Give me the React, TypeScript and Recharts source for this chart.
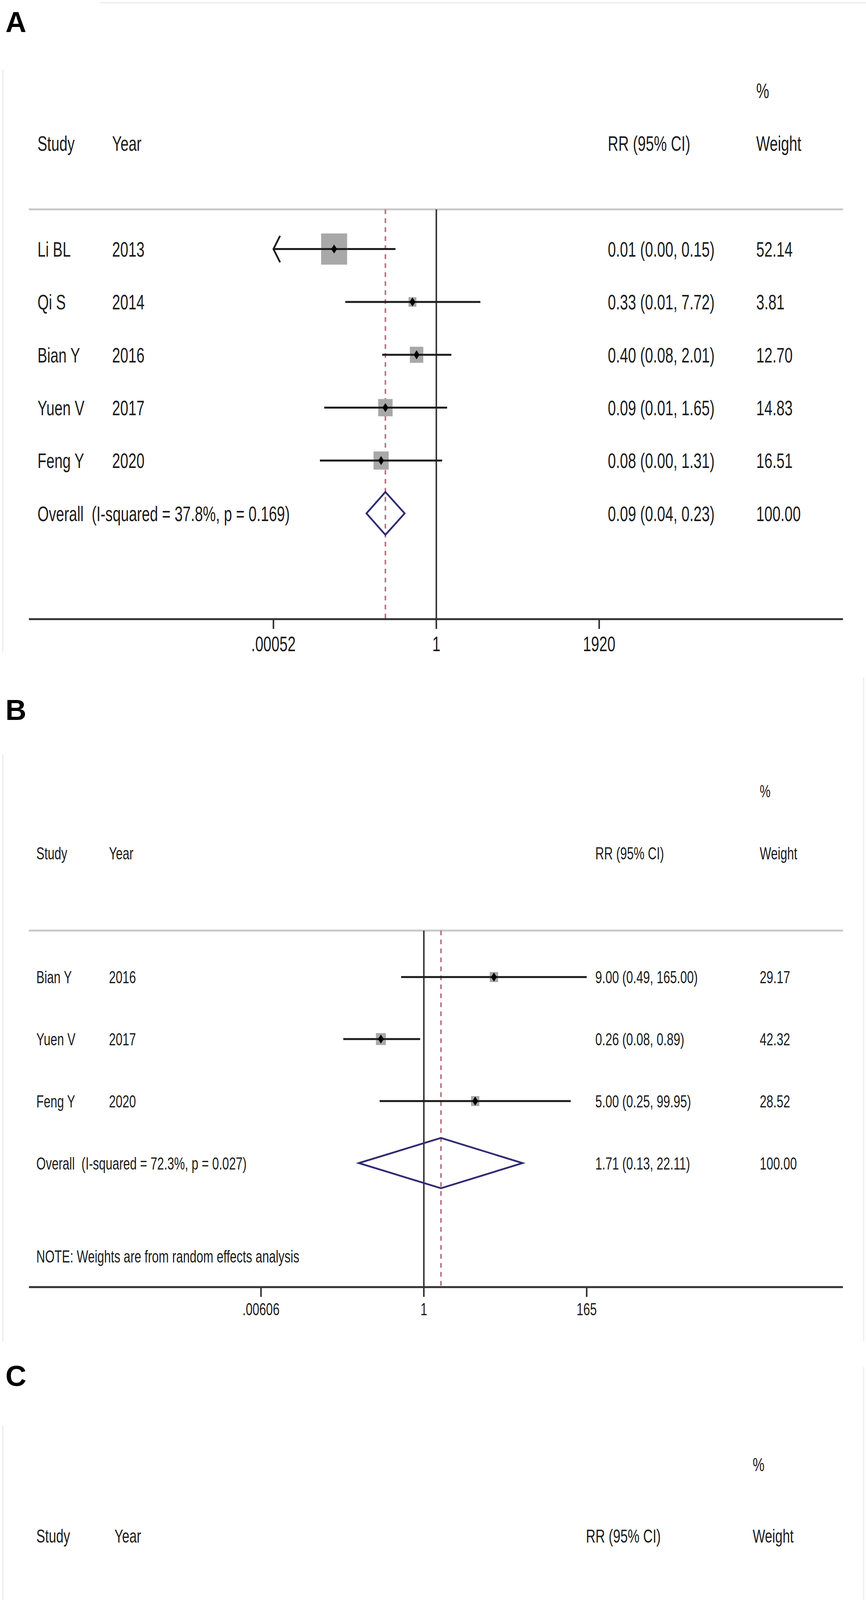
import React from 'react'
import {
    ComposedChart,
    XAxis,
    YAxis,
    Scatter,
    Line,
    ErrorBar,
    ReferenceLine,
} from 'recharts'

// panel A
const aStudy = ['Li BL', 'Qi S', 'Bian Y', 'Yuen V', 'Feng Y']
const aYear = ['2013', '2014', '2016', '2017', '2020']
const aRR = [0.0087, 0.33, 0.4, 0.094, 0.077]
const aLow = [0.0003, 0.0146, 0.081, 0.0055, 0.0045]
const aHigh = [0.15, 7.72, 2.01, 1.65, 1.31]
const aCI = [
    '0.01 (0.00, 0.15)',
    '0.33 (0.01, 7.72)',
    '0.40 (0.08, 2.01)',
    '0.09 (0.01, 1.65)',
    '0.08 (0.00, 1.31)',
]
const aWeight = [52.14, 3.81, 12.7, 14.83, 16.51]
const aOverall = [0.094, 0.039, 0.23]
const aOverallCI = '0.09 (0.04, 0.23)'
const aOverallLabel = 'Overall  (I-squared = 37.8%, p = 0.169)'
const aTicks = ['.00052', '1', '1920']

// panel B
const bStudy = ['Bian Y', 'Yuen V', 'Feng Y']
const bYear = ['2016', '2017', '2020']
const bRR = [9.0, 0.26, 5.0]
const bLow = [0.49, 0.08, 0.25]
const bHigh = [165.0, 0.89, 99.95]
const bCI = ['9.00 (0.49, 165.00)', '0.26 (0.08, 0.89)', '5.00 (0.25, 99.95)']
const bWeight = [29.17, 42.32, 28.52]
const bOverall = [1.71, 0.13, 22.11]
const bOverallCI = '1.71 (0.13, 22.11)'
const bOverallLabel = 'Overall  (I-squared = 72.3%, p = 0.027)'
const bNote = 'NOTE: Weights are from random effects analysis'
const bTicks = ['.00606', '1', '165']

// panel C
const cStudy = ['Li BL', 'Yuen V']
const cYear = ['2013', '2017']
const cRR = [0.65, 1.23]
const cLow = [0.026, 0.51]
const cHigh = [15.93, 2.96]
const cCI = ['0.65 (0.03, 15.93)', '1.23 (0.51, 2.96)']
const cWeight = [9.23, 90.77]
const cOverall = [1.18, 0.51, 2.74]
const cOverallCI = '1.18 (0.51, 2.74)'
const cOverallLabel = 'Overall  (I-squared = 0.0%, p = 0.708)'
const cTicks = ['.0268', '1', '37.3']

const W = 2217
const ML = 74
const MR = 59
const FONT = '"Liberation Sans", Arial, sans-serif'
const SX = 0.69

const layA = {
    top: 0,
    height: 1700,
    marginTop: 130,
    axisH: 115,
    domain: [-8.214, 8.198],
    fs: 54,
    cols: { study: 96, year: 287, ci: 1556, weight: 1936 },
    boxK: 8.8,
    boxC: 3,
    tickOff: 63,
}
const layB = {
    top: 1700,
    height: 1760,
    marginTop: 206,
    axisH: 165,
    domain: [-5.378, 5.707],
    fs: 45,
    cols: { study: 93, year: 279, ci: 1524, weight: 1945 },
    boxK: 3.6,
    boxC: 2,
    tickOff: 56,
}
const layC = {
    top: 3460,
    height: 1699,
    marginTop: 152,
    axisH: 133,
    domain: [-3.706, 4.125],
    fs: 49,
    cols: { study: 93, year: 293, ci: 1500, weight: 1927 },
    boxK: 4.5,
    boxC: 8,
    tickOff: 59,
}

function Label({ x, y, fs, text, anchor }: any) {
    return (
        <text
            transform={`translate(${x},${y}) scale(${SX},1)`}
            fontSize={fs}
            fontFamily={FONT}
            fill="#1c1c1c"
            textAnchor={anchor || 'start'}
            xmlSpace="preserve"
            style={{ whiteSpace: 'pre' }}
        >
            {text}
        </text>
    )
}

function Panel(props: any) {
    const { study, year, rr, low, high, ci, weight, overall, overallCI, overallLabel, note, ticks, lay } = props
    const n = study.length
    const yMax = n + 2
    const tickVals = ticks.map((t: string) => Math.log10(Number(t)))
    const tMin = tickVals[0]
    const tMax = tickVals[tickVals.length - 1]
    const pxPerUnit = (W - ML - MR) / (lay.domain[1] - lay.domain[0])
    const dx = 17 / pxPerUnit
    const fs = lay.fs
    const cols = lay.cols

    const rows = study.map((s: string, i: number) => {
        const x = Math.log10(rr[i])
        const lo = Math.max(Math.log10(low[i]), tMin)
        const hi = Math.min(Math.log10(high[i]), tMax)
        return { x, y: i, err: [x - lo, hi - x], w: weight[i] }
    })

    const arrows: any[] = []
    study.forEach((s: string, i: number) => {
        if (Math.log10(low[i]) < tMin - 1e-6) {
            arrows.push([
                { x: tMin + dx, y: i - 0.25 },
                { x: tMin, y: i },
                { x: tMin + dx, y: i + 0.25 },
            ])
        }
        if (Math.log10(high[i]) > tMax + 1e-6) {
            arrows.push([
                { x: tMax - dx, y: i - 0.25 },
                { x: tMax, y: i },
                { x: tMax - dx, y: i + 0.25 },
            ])
        }
    })

    const oEst = Math.log10(overall[0])
    const oLo = Math.log10(overall[1])
    const oHi = Math.log10(overall[2])
    const diamond = [
        { x: oLo, y: n },
        { x: oEst, y: n - 0.405 },
        { x: oHi, y: n },
        { x: oEst, y: n + 0.405 },
        { x: oLo, y: n },
        { x: oEst, y: n - 0.405 },
    ]

    const texts: any[] = [
        { x: 0, y: -3, cells: [[cols.weight, '%']] },
        {
            x: 0,
            y: -2,
            cells: [
                [cols.study, 'Study'],
                [cols.year, 'Year'],
                [cols.ci, 'RR (95% CI)'],
                [cols.weight, 'Weight'],
            ],
        },
        ...study.map((s: string, i: number) => ({
            x: 0,
            y: i,
            cells: [
                [cols.study, s],
                [cols.year, year[i]],
                [cols.ci, ci[i]],
                [cols.weight, weight[i].toFixed(2)],
            ],
        })),
        {
            x: 0,
            y: n,
            cells: [
                [cols.study, overallLabel],
                [cols.ci, overallCI],
                [cols.weight, '100.00'],
            ],
        },
    ]
    if (note) texts.push({ x: 0, y: n + 1.5, cells: [[cols.study, note]] })

    const renderTick = (p: any) => {
        const idx = tickVals.findIndex((v: number) => Math.abs(v - p.payload.value) < 1e-6)
        return (
            <Label
                x={p.x}
                y={p.y - 25 + lay.tickOff + 0.36 * fs}
                fs={fs}
                anchor="middle"
                text={ticks[idx >= 0 ? idx : p.index]}
            />
        )
    }

    const renderStudy = (p: any) => {
        const w = lay.boxK * Math.sqrt(p.payload.w) + lay.boxC
        const h = w * 1.2
        const { cx, cy } = p
        return (
            <g>
                <rect x={cx - w / 2} y={cy - h / 2} width={w} height={h} fill="#a8a8a8" />
                <line x1={cx - w / 2} x2={cx + w / 2} y1={cy} y2={cy} stroke="#1c1c1c" strokeWidth={5} />
                <path
                    d={`M${cx},${cy - 11.5}L${cx + 7.5},${cy}L${cx},${cy + 11.5}L${cx - 7.5},${cy}Z`}
                    fill="#000"
                />
            </g>
        )
    }

    const renderText = (p: any) => (
        <g>
            {p.payload.cells.map((c: any, k: number) => (
                <Label key={k} x={c[0]} y={p.cy + 0.36 * fs} fs={fs} text={c[1]} />
            ))}
        </g>
    )

    return (
        <div style={{ position: 'absolute', left: 0, top: lay.top }}>
            <ComposedChart
                width={W}
                height={lay.height}
                margin={{ top: lay.marginTop, right: MR, bottom: 0, left: ML }}
            >
                <XAxis
                    type="number"
                    dataKey="x"
                    domain={lay.domain}
                    ticks={tickVals}
                    interval={0}
                    tickSize={25}
                    tickMargin={0}
                    height={lay.axisH}
                    axisLine={{ stroke: '#333', strokeWidth: 5 }}
                    tickLine={{ stroke: '#333', strokeWidth: 4 }}
                    tick={renderTick}
                />
                <YAxis type="number" dataKey="y" domain={[-3.75, yMax]} reversed hide />
                <ReferenceLine
                    segment={[
                        { x: lay.domain[0], y: -0.75 },
                        { x: lay.domain[1], y: -0.75 },
                    ]}
                    stroke="#c9c9c9"
                    strokeWidth={5}
                    ifOverflow="visible"
                />
                <ReferenceLine
                    segment={[
                        { x: 0, y: -0.75 },
                        { x: 0, y: yMax },
                    ]}
                    stroke="#3a3a3a"
                    strokeWidth={4}
                    ifOverflow="visible"
                />
                <ReferenceLine
                    segment={[
                        { x: oEst, y: -0.75 },
                        { x: oEst, y: yMax },
                    ]}
                    stroke="#b5737f"
                    strokeWidth={4}
                    strokeDasharray="12 11"
                    ifOverflow="visible"
                />
                <Line
                    data={diamond}
                    dataKey="y"
                    type="linear"
                    stroke="#2e2b72"
                    strokeWidth={4.5}
                    dot={false}
                    activeDot={false}
                    isAnimationActive={false}
                />
                {arrows.map((a: any, k: number) => (
                    <Line
                        key={k}
                        data={a}
                        dataKey="y"
                        type="linear"
                        stroke="#1c1c1c"
                        strokeWidth={4.5}
                        dot={false}
                        activeDot={false}
                        isAnimationActive={false}
                    />
                ))}
                <Scatter data={rows} shape={renderStudy} isAnimationActive={false}>
                    <ErrorBar dataKey="err" direction="x" width={0} stroke="#1c1c1c" strokeWidth={5} />
                </Scatter>
                <Scatter data={texts} shape={renderText} isAnimationActive={false} />
            </ComposedChart>
        </div>
    )
}

export default function App() {
    return (
        <div
            style={{
                position: 'absolute',
                left: 0,
                top: 0,
                width: W,
                height: 5159,
                background: '#ffffff',
                overflow: 'hidden',
            }}
        >
            <svg width={W} height={5159} style={{ position: 'absolute', left: 0, top: 0 }}>
                <line x1={255} x2={W} y1={7} y2={7} stroke="#ececec" strokeWidth={3} />
                <line x1={7} x2={7} y1={177} y2={1670} stroke="#ececec" strokeWidth={3} />
                <line x1={7} x2={7} y1={1933} y2={3433} stroke="#ececec" strokeWidth={3} />
                <line x1={2211} x2={2211} y1={1735} y2={3433} stroke="#ececec" strokeWidth={3} />
                <line x1={7} x2={7} y1={3650} y2={5159} stroke="#ececec" strokeWidth={3} />
                <line x1={2211} x2={2211} y1={3500} y2={5159} stroke="#ececec" strokeWidth={3} />
                <text x={14} y={82} fontSize={74} fontWeight="bold" fontFamily={FONT}>A</text>
                <text x={14} y={1843} fontSize={74} fontWeight="bold" fontFamily={FONT}>B</text>
                <text x={14} y={3548} fontSize={74} fontWeight="bold" fontFamily={FONT}>C</text>
            </svg>
            <Panel
                study={aStudy}
                year={aYear}
                rr={aRR}
                low={aLow}
                high={aHigh}
                ci={aCI}
                weight={aWeight}
                overall={aOverall}
                overallCI={aOverallCI}
                overallLabel={aOverallLabel}
                ticks={aTicks}
                lay={layA}
            />
            <Panel
                study={bStudy}
                year={bYear}
                rr={bRR}
                low={bLow}
                high={bHigh}
                ci={bCI}
                weight={bWeight}
                overall={bOverall}
                overallCI={bOverallCI}
                overallLabel={bOverallLabel}
                note={bNote}
                ticks={bTicks}
                lay={layB}
            />
            <Panel
                study={cStudy}
                year={cYear}
                rr={cRR}
                low={cLow}
                high={cHigh}
                ci={cCI}
                weight={cWeight}
                overall={cOverall}
                overallCI={cOverallCI}
                overallLabel={cOverallLabel}
                ticks={cTicks}
                lay={layC}
            />
        </div>
    )
}
